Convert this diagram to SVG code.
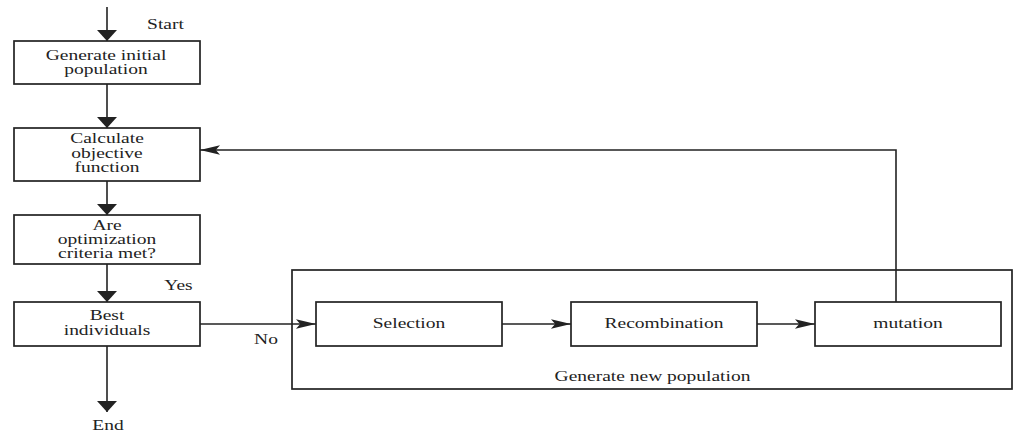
<svg xmlns="http://www.w3.org/2000/svg" width="1014" height="435" viewBox="0 0 1014 435">
<style>
.box{fill:#fff;stroke:#222;stroke-width:1.7}
.frame{fill:none;stroke:#222;stroke-width:1.7}
.ln{fill:none;stroke:#222;stroke-width:1.6}
.v{marker-end:url(#arrV)}
.h{marker-end:url(#arrH)}
text{font-family:'Liberation Serif','Times New Roman',serif;font-size:15px;fill:#222;text-anchor:middle}
</style>
<defs>
<marker id="arrV" markerUnits="userSpaceOnUse" markerWidth="12" markerHeight="20" viewBox="0 0 10 18" refX="10" refY="9" orient="auto">
<path d="M0,0 L10,9 L0,18 z" fill="#222"/>
</marker>
<marker id="arrH" markerUnits="userSpaceOnUse" markerWidth="20" markerHeight="10" viewBox="0 0 19 9" refX="19" refY="4.5" orient="auto">
<path d="M0,0 L19,4.5 L0,9 L4,4.5 z" fill="#222"/>
</marker>
</defs>
<rect class="frame" x="292" y="270" width="720" height="119"/>
<text transform="translate(652.5,381) scale(1.3,1)">Generate new population</text>
<g id="connectors">
<line class="ln v" x1="107" y1="7" x2="107" y2="41"/>
<line class="ln v" x1="107" y1="84" x2="107" y2="128"/>
<line class="ln v" x1="107" y1="181" x2="107" y2="215"/>
<line class="ln v" x1="107" y1="264" x2="107" y2="302"/>
<line class="ln v" x1="107" y1="346" x2="107" y2="412"/>
<line class="ln h" x1="200" y1="324" x2="316" y2="324"/>
<line class="ln h" x1="502" y1="324" x2="571" y2="324"/>
<line class="ln h" x1="757" y1="324" x2="815" y2="324"/>
<polyline class="ln h" points="896,302 896,150 200,150"/>
</g>
<text transform="translate(165.5,29) scale(1.3,1)">Start</text>
<text transform="translate(178.5,290) scale(1.3,1)">Yes</text>
<text transform="translate(266,344) scale(1.3,1)">No</text>
<text transform="translate(108,430) scale(1.3,1)">End</text>
<g id="n1">
<rect class="box" x="14" y="41" width="186" height="43"/>
<text transform="translate(106,60) scale(1.3,1)">Generate initial</text>
<text transform="translate(106,74) scale(1.3,1)">population</text>
</g>
<g id="n2">
<rect class="box" x="14" y="128" width="186" height="53"/>
<text transform="translate(107,143) scale(1.3,1)">Calculate</text>
<text transform="translate(107,158) scale(1.3,1)">objective</text>
<text transform="translate(107,172) scale(1.3,1)">function</text>
</g>
<g id="n3">
<rect class="box" x="14" y="215" width="186" height="49"/>
<text transform="translate(107,230) scale(1.3,1)">Are</text>
<text transform="translate(107,244) scale(1.3,1)">optimization</text>
<text transform="translate(107,258) scale(1.3,1)">criteria met?</text>
</g>
<g id="n4">
<rect class="box" x="14" y="302" width="186" height="44"/>
<text transform="translate(107,320) scale(1.3,1)">Best</text>
<text transform="translate(107,335) scale(1.3,1)">individuals</text>
</g>
<g id="n5">
<rect class="box" x="316" y="302" width="186" height="44"/>
<text transform="translate(409,328) scale(1.3,1)">Selection</text>
</g>
<g id="n6">
<rect class="box" x="571" y="302" width="186" height="44"/>
<text transform="translate(664,328) scale(1.3,1)">Recombination</text>
</g>
<g id="n7">
<rect class="box" x="815" y="302" width="186" height="44"/>
<text transform="translate(908,328) scale(1.3,1)">mutation</text>
</g>
</svg>
